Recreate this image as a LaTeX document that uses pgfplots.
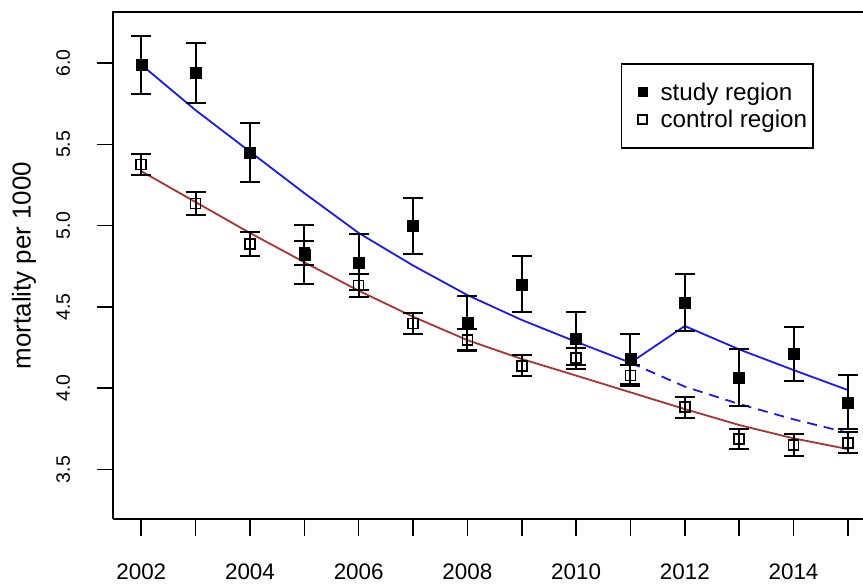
\documentclass[border=0pt]{standalone}
\usepackage{fontspec}
\setmainfont{Liberation Sans}
\usepackage{pgfplots}
\pgfplotsset{compat=1.18}
\usepackage{pgfplotstable}

\definecolor{fitblue}{RGB}{25,25,245}
\definecolor{fitred}{RGB}{175,50,50}

\pgfplotstableread{
year val err
2002 5.988 0.180
2003 5.940 0.183
2004 5.451 0.180
2005 4.823 0.180
2006 4.775 0.172
2007 4.998 0.175
2008 4.401 0.165
2009 4.639 0.172
2010 4.307 0.165
2011 4.180 0.155
2012 4.526 0.175
2013 4.065 0.175
2014 4.210 0.168
2015 3.913 0.166
}\study

\pgfplotstableread{
year val err
2002 5.377 0.066
2003 5.137 0.070
2004 4.887 0.072
2005 4.833 0.072
2006 4.632 0.070
2007 4.398 0.066
2008 4.296 0.067
2009 4.138 0.065
2010 4.185 0.065
2011 4.079 0.064
2012 3.883 0.063
2013 3.688 0.063
2014 3.651 0.066
2015 3.664 0.065
}\control

\pgfplotstableread{
year fit
2002 5.335
2003 5.145
2004 4.955
2005 4.775
2006 4.600
2007 4.440
2008 4.296
2009 4.180
2010 4.078
2011 3.975
2012 3.872
2013 3.774
2014 3.692
2015 3.626
}\controlfit

\pgfplotstableread{
year fit
2002 5.990
2003 5.710
2004 5.455
2005 5.200
2006 4.955
2007 4.755
2008 4.573
2009 4.420
2010 4.286
2011 4.157
2012 4.383
2013 4.239
2014 4.112
2015 3.989
}\studyfit

\pgfplotstableread{
year fit
2011 4.157
2012 4.010
2013 3.903
2014 3.809
2015 3.726
}\studycf

\begin{document}
\begin{tikzpicture}
\begin{axis}[
  name=ax,
  scale only axis,
  width=750bp, height=507bp,
  xmin=2001.48, xmax=2015.278,
  ymin=3.196, ymax=6.314,
  clip=false,
  axis line style={draw=none},
  xtick={2002,2003,...,2015},
  xticklabels={2002,,2004,,2006,,2008,,2010,,2012,,2014,},
  ytick={3.5,4.0,4.5,5.0,5.5,6.0},
  tick align=outside,
  xtick pos=left, ytick pos=left,
  major tick length=16.5bp,
  tick style={black, line width=1.6bp},
  /pgf/number format/assume math mode=true,
  xticklabel style={font=\fontsize{22.5}{27}\selectfont, yshift=-25bp},
  yticklabel style={font=\fontsize{19.5}{23}\selectfont, xshift=-23bp, rotate=90, anchor=south,
    /pgf/number format/.cd, fixed, fixed zerofill, precision=1},
  every axis y label/.style={at={(rel axis cs:0,0.5)}, xshift=-89bp, rotate=90, anchor=center,
    font=\fontsize{26}{30}\selectfont},
  ylabel={mortality per 1000},
  legend style={at={(rel axis cs:0.677,0.899)}, anchor=north west, draw=black,
    line width=1.5bp, font=\fontsize{24.3}{28}\selectfont,
    inner xsep=4bp, inner ysep=17bp, row sep=4bp},
  legend cell align=left,
]
\draw[line width=1.6bp] (rel axis cs:0,0) -- (rel axis cs:0,1) -- (rel axis cs:1,1);
\draw[line width=1.6bp] (rel axis cs:0,0) -- (rel axis cs:1,0);

\addplot[forget plot, fitred, line width=1.8bp] table[x=year, y=fit] {\controlfit};
\addplot[forget plot, fitblue, line width=1.8bp] table[x=year, y=fit] {\studyfit};
\addplot[forget plot, fitblue, line width=1.8bp, dash pattern=on 10bp off 7bp] table[x=year, y=fit] {\studycf};

\addplot[forget plot, only marks, mark=square, mark size=5bp,
  mark options={fill=white, draw=black, line width=1.6bp},
  error bars/.cd, y dir=both, y explicit,
  error bar style={line width=2bp, black},
  error mark options={rotate=90, mark size=10bp, line width=2bp, black}]
  table[x=year, y=val, y error=err] {\control};

\addplot[forget plot, only marks, mark=square*, mark size=5.5bp,
  mark options={fill=black, draw=black},
  error bars/.cd, y dir=both, y explicit,
  error bar style={line width=2bp, black},
  error mark options={rotate=90, mark size=10bp, line width=2bp, black}]
  table[x=year, y=val, y error=err] {\study};

\addlegendimage{legend image code/.code={
  \path[draw=none, fill=none] (0bp,-5bp) rectangle (33bp,5bp);
  \path[draw=black, fill=black, line width=1pt] (12.5bp,-4.5bp) rectangle (21.5bp,4.5bp);}}
\addlegendentry{study region}
\addlegendimage{legend image code/.code={
  \path[draw=none, fill=none] (0bp,-5bp) rectangle (33bp,5bp);
  \path[draw=black, fill=white, line width=1.5bp] (12.5bp,-4.5bp) rectangle (21.5bp,4.5bp);}}
\addlegendentry{control region}
\end{axis}
\pgfresetboundingbox
\path ([xshift=-113bp,yshift=-65bp]ax.south west) rectangle ([yshift=12bp]ax.north east);
\end{tikzpicture}
\end{document}
